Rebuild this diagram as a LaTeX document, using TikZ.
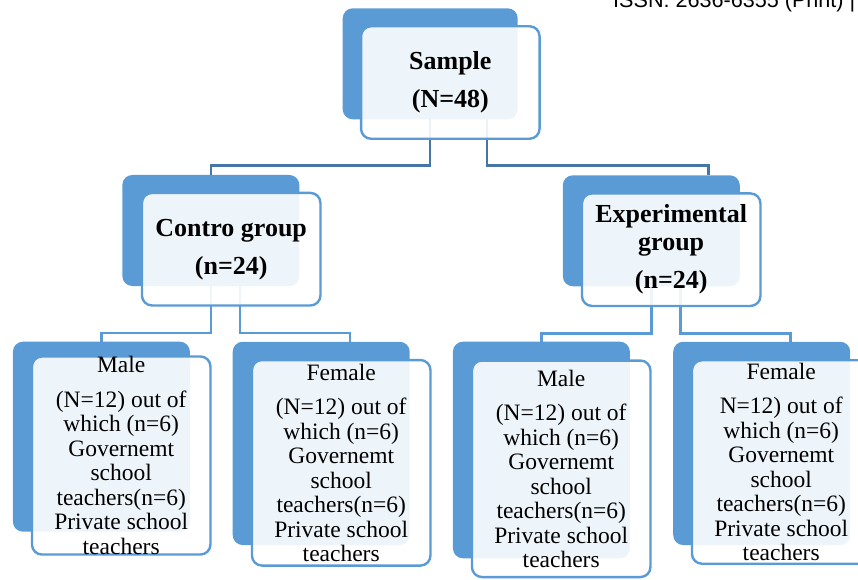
\documentclass[tikz,border=0pt]{standalone}
\usepackage{fontspec}
\setmainfont{Liberation Serif}
\newfontfamily\hdrfont{Liberation Sans}
\usetikzlibrary{calc,positioning}
\definecolor{boxblue}{RGB}{91,155,213}
\definecolor{linkblue}{RGB}{70,118,168}

\tikzset{
  backbox/.style={fill=boxblue, rounded corners=10pt, inner sep=0pt, minimum width=177pt},
  frontbox/.style={draw=boxblue, line width=2.4pt, fill=white, fill opacity=0.9,
    text opacity=1, rounded corners=10pt, inner sep=0pt, align=center, minimum width=178.5pt},
  headtxt/.style={font=\fontsize{26}{28}\selectfont\bfseries},
  leaftxt/.style={font=\fontsize{23.5}{24.5}\selectfont},
  link/.style={draw=linkblue, line width=2.5pt},
}

\begin{document}
\begin{tikzpicture}[x=1pt,y=1pt]
\useasboundingbox (0,0) rectangle (858,579);
% page header, cut by the top edge
\node[font=\hdrfont\fontsize{21.6}{24}\selectfont, anchor=base west, inner sep=0pt] (issn)
  at (613,571) {ISSN: 2636-6355 (Print) |};

% back plates
\node[backbox, minimum width=175pt, minimum height=111pt] (sample-back) at (430.2,515.2) {};
\node[backbox, minimum height=111pt] (control-back) at (210.8,348.5) {};
\node[backbox, minimum height=111pt] (exper-back) at (651.3,348.2) {};
\node[backbox, minimum height=190pt] (maleA-back) at (101.4,142.3) {};
\node[backbox, minimum height=203.3pt] (femaleA-back) at (321.2,135.6) {};
\node[backbox, minimum height=216.6pt] (maleB-back) at (541.4,129) {};
\node[backbox, minimum height=203.3pt] (femaleB-back) at (761.7,135.6) {};

% connectors
\draw[link] (sample-back.south) -- ++(0,-46) -| (control-back.north);
\draw[link] ($(sample-back.south)+(57,0)$) -- ++(0,-46) -| ($(exper-back.north)+(57,0)$);
\draw[link,boxblue] (control-back.south) -- ++(0,-47) -| (maleA-back.north);
\draw[link,boxblue] ($(control-back.south)+(29,0)$) -- ++(0,-47) -| ($(femaleA-back.north)+(29,0)$);
\draw[link,boxblue] (exper-back.south) -- ++(0,-47) -| (maleB-back.north);
\draw[link,boxblue] ($(exper-back.south)+(29,0)$) -- ++(0,-47) -| ($(femaleB-back.north)+(29,0)$);

% front boxes
\node[frontbox, headtxt, minimum height=112.5pt] (sample) at (450.3,496.5)
  {Sample\\[10pt](N=48)};
\node[frontbox, headtxt, minimum height=112.5pt] (control) at (231.2,329.8)
  {Contro group\\[10pt](n=24)};
\node[frontbox, headtxt, minimum height=112.5pt] (exper) at (671.2,329.3)
  {Experimental\\group\\[10pt](n=24)};
\node[frontbox, leaftxt, minimum height=190pt] (maleA) at (121.2,123.5)
  {Male\\[10pt](N=12) out of\\which (n=6)\\Governemt\\school\\teachers(n=6)\\Private school\\teachers};
\node[frontbox, leaftxt, minimum height=205.5pt] (femaleA) at (341.2,116.2)
  {Female\\[10pt](N=12) out of\\which (n=6)\\Governemt\\school\\teachers(n=6)\\Private school\\teachers};
\node[frontbox, leaftxt, minimum height=216.5pt] (maleB) at (561.2,110.2)
  {Male\\[10pt](N=12) out of\\which (n=6)\\Governemt\\school\\teachers(n=6)\\Private school\\teachers};
\node[frontbox, leaftxt, minimum height=203.5pt] (femaleB) at (781.2,117)
  {Female\\[10pt]N=12) out of\\which (n=6)\\Governemt\\school\\teachers(n=6)\\Private school\\teachers};
\end{tikzpicture}
\end{document}
